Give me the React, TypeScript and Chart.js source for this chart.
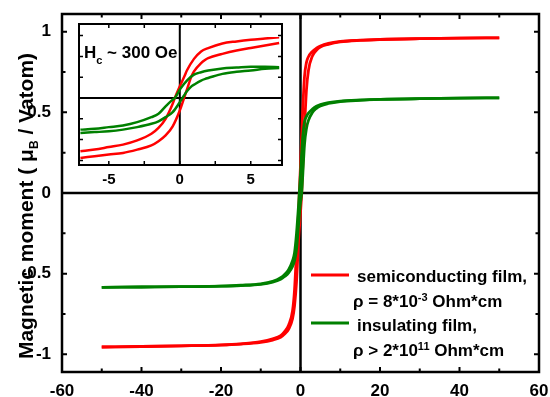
import React, { useEffect, useRef } from "react";
import { Chart, registerables } from "chart.js";

Chart.register(...registerables);

// ---------- main plot data (field in kOe, moment in μB / V atom) ----------
const mainFieldDown = [-50, -40, -30, -20, -15, -10, -7, -5, -4, -3, -2, -1.5, -1, -0.5, -0.3, 0, 0.5, 1, 1.5, 2, 3, 4, 5, 7, 10, 15, 20, 30, 40, 50];
const mainFieldUp = [-50, -40, -30, -20, -15, -10, -7, -5, -4, -3, -2, -1.5, -1, -0.5, 0, 0.3, 0.5, 1, 1.5, 2, 3, 4, 5, 7, 10, 15, 20, 30, 40, 50];

const redMainDown = [-0.955, -0.952, -0.948, -0.942, -0.935, -0.922, -0.905, -0.885, -0.86, -0.82, -0.73, -0.6, -0.36, -0.12, 0.0, 0.17, 0.48, 0.72, 0.81, 0.845, 0.878, 0.898, 0.912, 0.928, 0.94, 0.948, 0.952, 0.957, 0.96, 0.962];
const redMainUp = [-0.955, -0.952, -0.948, -0.943, -0.937, -0.926, -0.912, -0.895, -0.875, -0.845, -0.78, -0.7, -0.55, -0.3, -0.12, 0.0, 0.12, 0.4, 0.64, 0.76, 0.85, 0.885, 0.905, 0.922, 0.937, 0.947, 0.952, 0.957, 0.96, 0.962];

const greenMainDown = [-0.585, -0.583, -0.581, -0.577, -0.572, -0.563, -0.548, -0.525, -0.505, -0.475, -0.42, -0.37, -0.25, -0.08, 0.0, 0.12, 0.33, 0.44, 0.475, 0.495, 0.52, 0.538, 0.548, 0.56, 0.57, 0.577, 0.581, 0.585, 0.588, 0.59];
const greenMainUp = [-0.585, -0.583, -0.581, -0.578, -0.574, -0.566, -0.553, -0.535, -0.518, -0.495, -0.455, -0.42, -0.35, -0.2, -0.06, 0.0, 0.08, 0.3, 0.4, 0.45, 0.5, 0.525, 0.54, 0.555, 0.567, 0.575, 0.58, 0.585, 0.588, 0.59];

const mainXTicks = [-60, -40, -20, 0, 20, 40, 60];
const mainXMinor = [-60, -50, -40, -30, -20, -10, 0, 10, 20, 30, 40, 50, 60];
const mainYTicks = [-1, -0.5, 0, 0.5, 1];
const mainYMinor = [-1, -0.75, -0.5, -0.25, 0, 0.25, 0.5, 0.75, 1];

// ---------- inset data (field in kOe, moment in arbitrary units) ----------
const insetFieldDown = [-7, -6, -5, -4, -3, -2, -1.5, -1, -0.5, -0.35, 0, 0.35, 0.5, 1, 1.5, 2, 3, 4, 5, 6, 7];
const redInsetDown = [-0.64, -0.62, -0.59, -0.56, -0.51, -0.43, -0.36, -0.25, -0.07, 0.0, 0.14, 0.27, 0.33, 0.47, 0.56, 0.6, 0.655, 0.68, 0.7, 0.715, 0.73];
const greenInsetDown = [-0.38, -0.37, -0.35, -0.33, -0.29, -0.23, -0.19, -0.1, -0.02, 0.0, 0.1, 0.18, 0.21, 0.28, 0.31, 0.33, 0.355, 0.365, 0.375, 0.375, 0.37];

const insetFieldUp = [-7, -6, -5, -4, -3, -2, -1.5, -1, -0.5, 0, 0.3, 0.5, 0.82, 1, 1.5, 1.8, 2, 3, 4, 5, 6, 7];
const redInsetUp = [-0.72, -0.7, -0.68, -0.66, -0.62, -0.57, -0.52, -0.45, -0.34, -0.15, 0.0, 0.1, 0.26, 0.32, 0.42, 0.46, 0.48, 0.53, 0.57, 0.6, 0.63, 0.66];
const greenInsetUp = [-0.42, -0.41, -0.4, -0.38, -0.35, -0.31, -0.28, -0.23, -0.17, -0.05, 0.03, 0.08, 0.14, 0.16, 0.21, 0.23, 0.24, 0.29, 0.315, 0.33, 0.35, 0.36];

const insetXTicks = [-5, 0, 5];
const insetXMinor = [-7.5, -5, -2.5, 0, 2.5, 5, 7.5];
const insetYMinor = [-0.75, -0.5, -0.25, 0, 0.25, 0.5, 0.75];

const RED = "#ff0000";
const GREEN = "#008000";
const FONT = '"Liberation Sans", Arial, Helvetica, sans-serif';

const pts = (xs: number[], ys: number[]) => xs.map((x, i) => ({ x, y: ys[i] }));

const lineDs = (data: { x: number; y: number }[], color: string, width: number) => ({
  data,
  borderColor: color,
  backgroundColor: color,
  borderWidth: width,
  pointRadius: 0,
  showLine: true,
  fill: false,
  cubicInterpolationMode: "monotone" as const,
  tension: 0.4,
});

const zeroPadding = (s: any) => {
  s.paddingTop = 0;
  s.paddingBottom = 0;
  s.paddingLeft = 0;
  s.paddingRight = 0;
};

function drawTicks(chart: any, xMajor: number[], xMinor: number[], yMinor: number[], yMajor: number[], majLen: number, minLen: number, lw: number) {
  const { ctx, chartArea: a, scales } = chart;
  const x = scales.x, y = scales.y;
  ctx.save();
  ctx.strokeStyle = "#000";
  ctx.lineWidth = lw;
  ctx.beginPath();
  xMinor.forEach((v) => {
    const p = x.getPixelForValue(v);
    if (p < a.left - 0.5 || p > a.right + 0.5) return;
    const len = xMajor.includes(v) ? majLen : minLen;
    ctx.moveTo(p, a.bottom);
    ctx.lineTo(p, a.bottom - len);
    ctx.moveTo(p, a.top);
    ctx.lineTo(p, a.top + len);
  });
  yMinor.forEach((v) => {
    const p = y.getPixelForValue(v);
    if (p < a.top - 0.5 || p > a.bottom + 0.5) return;
    const len = yMajor.includes(v) ? majLen : minLen;
    ctx.moveTo(a.left, p);
    ctx.lineTo(a.left + len, p);
    ctx.moveTo(a.right, p);
    ctx.lineTo(a.right - len, p);
  });
  ctx.stroke();
  ctx.restore();
}

function drawZeroLines(chart: any, lw: number) {
  const { ctx, chartArea: a, scales } = chart;
  const x0 = scales.x.getPixelForValue(0);
  const y0 = scales.y.getPixelForValue(0);
  ctx.save();
  ctx.strokeStyle = "#000";
  ctx.lineWidth = lw;
  ctx.beginPath();
  ctx.moveTo(x0, a.top);
  ctx.lineTo(x0, a.bottom);
  ctx.moveTo(a.left, y0);
  ctx.lineTo(a.right, y0);
  ctx.stroke();
  ctx.restore();
}

function drawFrame(chart: any, lw: number) {
  const { ctx, chartArea: a } = chart;
  ctx.save();
  ctx.strokeStyle = "#000";
  ctx.lineWidth = lw;
  ctx.strokeRect(a.left, a.top, a.right - a.left, a.bottom - a.top);
  ctx.restore();
}

// draw a run of text pieces: [text, size, baselineOffset]
function drawRuns(ctx: CanvasRenderingContext2D, x: number, y: number, runs: [string, number, number][]) {
  let cx = x;
  runs.forEach(([t, size, dy]) => {
    ctx.font = `bold ${size}px ${FONT}`;
    ctx.fillText(t, cx, y + dy);
    cx += ctx.measureText(t).width;
  });
}
function runsWidth(ctx: CanvasRenderingContext2D, runs: [string, number, number][]) {
  let w = 0;
  runs.forEach(([t, size]) => {
    ctx.font = `bold ${size}px ${FONT}`;
    w += ctx.measureText(t).width;
  });
  return w;
}

const mainDecor = {
  id: "mainDecor",
  beforeDatasetsDraw(chart: any) {
    drawZeroLines(chart, 2.5);
  },
  afterDraw(chart: any) {
    const ctx: CanvasRenderingContext2D = chart.ctx;
    drawFrame(chart, 2.5);
    drawTicks(chart, mainXTicks, mainXMinor, mainYMinor, mainYTicks, 5, 3.5, 2);

    // y axis title with subscript
    ctx.save();
    ctx.fillStyle = "#000";
    ctx.textBaseline = "alphabetic";
    const titleRuns: [string, number, number][] = [
      ["Magnetic moment ( μ", 21, 0],
      ["B", 12, 5],
      [" / Vatom)", 21, 0],
    ];
    const tw = runsWidth(ctx, titleRuns);
    ctx.translate(33, 206);
    ctx.rotate(-Math.PI / 2);
    drawRuns(ctx, -tw / 2, 0, titleRuns);
    ctx.restore();

    // legend
    ctx.save();
    ctx.lineWidth = 3;
    ctx.strokeStyle = RED;
    ctx.beginPath();
    ctx.moveTo(311, 275);
    ctx.lineTo(349, 275);
    ctx.stroke();
    ctx.strokeStyle = GREEN;
    ctx.beginPath();
    ctx.moveTo(311, 323);
    ctx.lineTo(349, 323);
    ctx.stroke();
    ctx.fillStyle = "#000";
    ctx.textBaseline = "alphabetic";
    drawRuns(ctx, 357, 282, [["semiconducting film,", 17, 0]]);
    drawRuns(ctx, 353, 307, [["ρ = 8*10", 17, 0], ["-3", 11, -6], [" Ohm*cm", 17, 0]]);
    drawRuns(ctx, 357, 331, [["insulating film,", 17, 0]]);
    drawRuns(ctx, 353, 356, [["ρ > 2*10", 17, 0], ["11", 11, -6], [" Ohm*cm", 17, 0]]);
    ctx.restore();
  },
};

const insetDecor = {
  id: "insetDecor",
  beforeDatasetsDraw(chart: any) {
    drawZeroLines(chart, 2);
  },
  afterDraw(chart: any) {
    const ctx: CanvasRenderingContext2D = chart.ctx;
    drawFrame(chart, 2);
    drawTicks(chart, insetXTicks, insetXMinor, insetYMinor, [], 4, 4, 1.5);
    ctx.save();
    ctx.fillStyle = "#000";
    ctx.textBaseline = "alphabetic";
    drawRuns(ctx, 84, 58, [["H", 17, 0], ["c", 11, 6], [" ~ 300 Oe", 17, 0]]);
    ctx.restore();
  },
};

export default function App() {
  const mainRef = useRef<HTMLCanvasElement>(null);
  const insetRef = useRef<HTMLCanvasElement>(null);

  useEffect(() => {
    document.body.style.margin = "0";
    Chart.defaults.font.family = FONT;
    Chart.defaults.color = "#000";

    const main = new Chart(mainRef.current!, {
      type: "scatter",
      data: {
        datasets: [
          lineDs(pts(mainFieldDown, greenMainDown), GREEN, 2.8),
          lineDs(pts(mainFieldUp, greenMainUp), GREEN, 2.8),
          lineDs(pts(mainFieldDown, redMainDown), RED, 2.8),
          lineDs(pts(mainFieldUp, redMainUp), RED, 2.8),
        ],
      },
      options: {
        animation: false,
        responsive: false,
        events: [],
        layout: { padding: { left: 0, top: 14, right: 11, bottom: 0 } },
        plugins: { legend: { display: false }, tooltip: { enabled: false } },
        scales: {
          x: {
            type: "linear",
            min: -60,
            max: 60,
            grid: { display: false, drawTicks: false },
            border: { display: false },
            afterBuildTicks: (s: any) => {
              s.ticks = mainXTicks.map((v) => ({ value: v }));
            },
            afterFit: (s: any) => {
              s.height = 25;
              zeroPadding(s);
            },
            ticks: {
              padding: 9,
              maxRotation: 0,
              autoSkip: false,
              font: { size: 17, weight: "bold" },
              callback: (v: any) => String(v),
            },
          },
          y: {
            type: "linear",
            min: -1.11,
            max: 1.11,
            grid: { display: false, drawTicks: false },
            border: { display: false },
            afterBuildTicks: (s: any) => {
              s.ticks = mainYTicks.map((v) => ({ value: v }));
            },
            afterFit: (s: any) => {
              s.width = 62;
              zeroPadding(s);
            },
            ticks: {
              padding: 11,
              autoSkip: false,
              font: { size: 17, weight: "bold" },
              callback: (v: any) => String(v),
            },
          },
        },
      } as any,
      plugins: [mainDecor],
    });

    const inset = new Chart(insetRef.current!, {
      type: "scatter",
      data: {
        datasets: [
          lineDs(pts(insetFieldDown, greenInsetDown), GREEN, 2.5),
          lineDs(pts(insetFieldUp, greenInsetUp), GREEN, 2.5),
          lineDs(pts(insetFieldDown, redInsetDown), RED, 2.5),
          lineDs(pts(insetFieldUp, redInsetUp), RED, 2.5),
        ],
      },
      options: {
        animation: false,
        responsive: false,
        events: [],
        layout: { padding: { left: 79, top: 24, right: 268, bottom: 0 } },
        plugins: { legend: { display: false }, tooltip: { enabled: false } },
        scales: {
          x: {
            type: "linear",
            min: -7.1,
            max: 7.2,
            grid: { display: false, drawTicks: false },
            border: { display: false },
            afterBuildTicks: (s: any) => {
              s.ticks = insetXTicks.map((v) => ({ value: v }));
            },
            afterFit: (s: any) => {
              s.height = 232;
              zeroPadding(s);
            },
            ticks: {
              padding: 6,
              maxRotation: 0,
              autoSkip: false,
              font: { size: 15, weight: "bold" },
              callback: (v: any) => String(v),
            },
          },
          y: {
            type: "linear",
            min: -0.805,
            max: 0.889,
            display: false,
          },
        },
      } as any,
      plugins: [insetDecor],
    });

    return () => {
      main.destroy();
      inset.destroy();
    };
  }, []);

  return (
    <div style={{ position: "relative", width: 550, height: 397, background: "#fff" }}>
      <canvas ref={mainRef} width={550} height={397} style={{ position: "absolute", left: 0, top: 0, display: "block" }} />
      <canvas ref={insetRef} width={550} height={397} style={{ position: "absolute", left: 0, top: 0, display: "block" }} />
    </div>
  );
}
